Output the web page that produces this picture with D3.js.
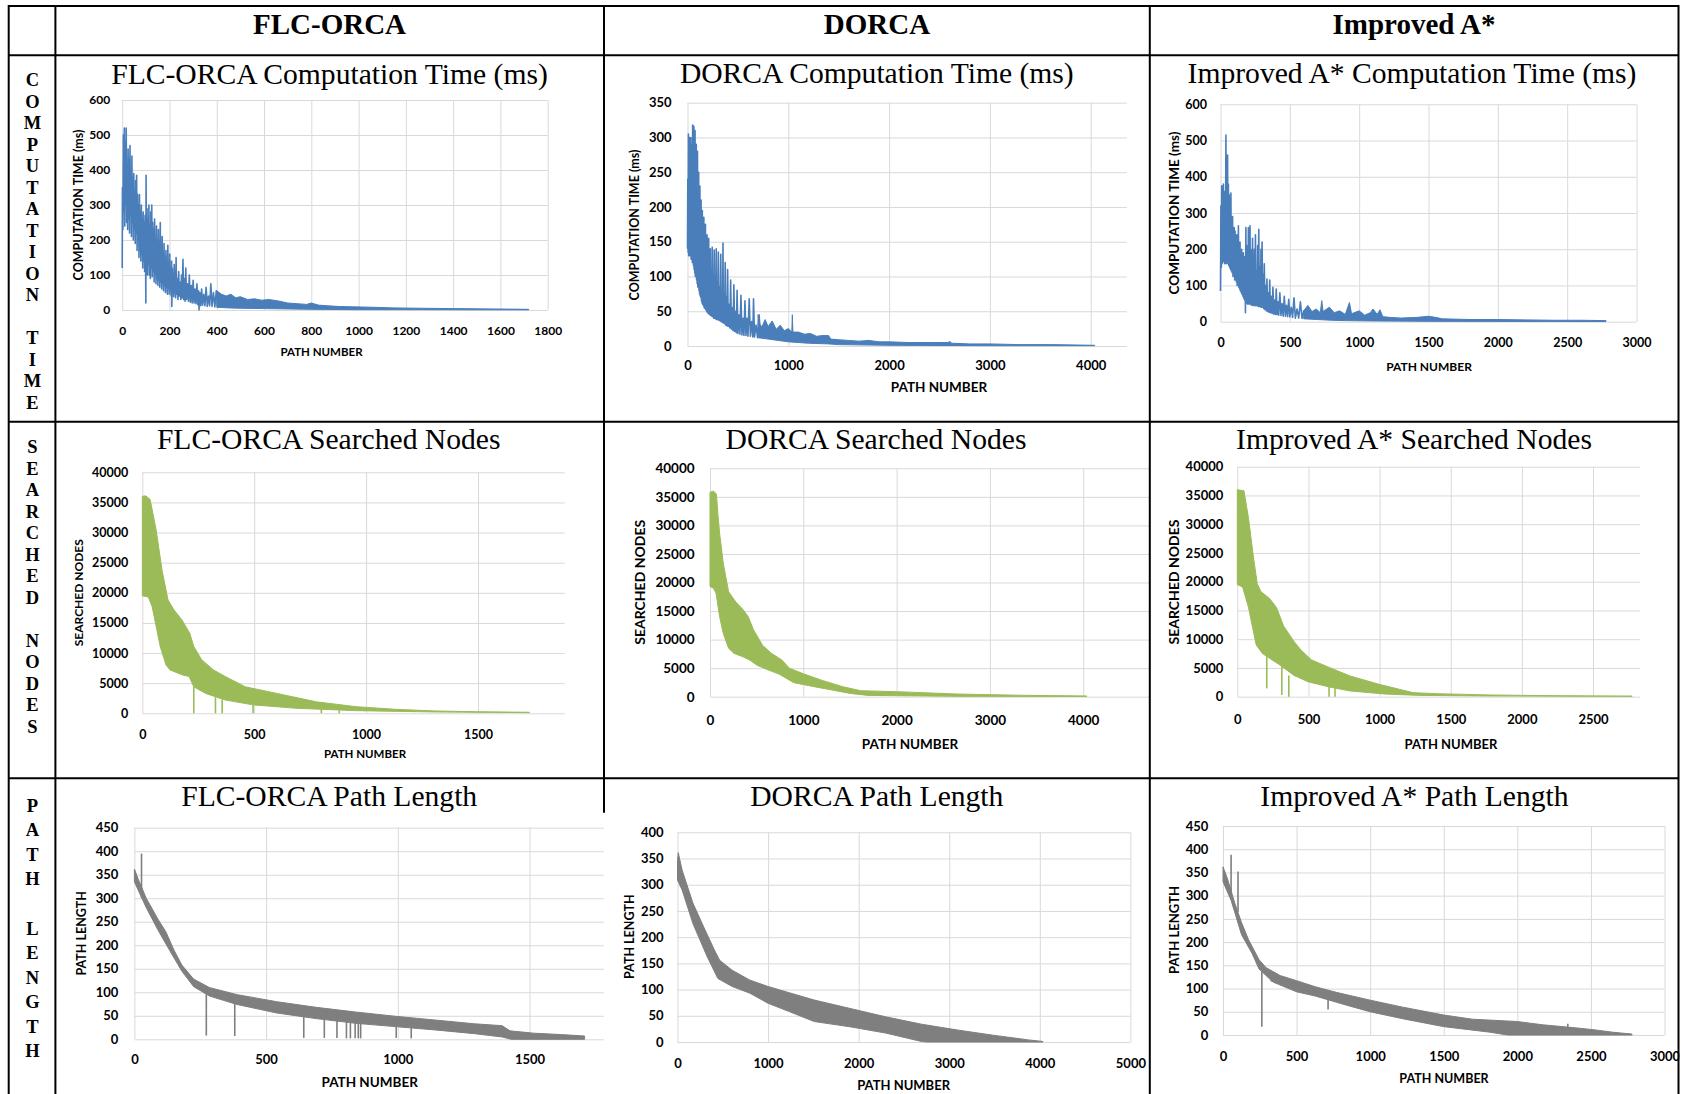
<!DOCTYPE html>
<html>
<head>
<meta charset="utf-8">
<title>FLC-ORCA / DORCA / Improved A* comparison</title>
<script src="https://d3js.org/d3.v7.min.js"></script>
<style>
  body { margin: 0; background: #fff; }
  svg { display: block; }
</style>
</head>
<body>
<div id="vis"></div>
<script>
const width = 1689;
const height = 1094;

// ---- table text ----
const columns = ["FLC-ORCA", "DORCA", "Improved A*"];
const rowLabels = ["COMPUTATION TIME", "SEARCHED NODES", "PATH LENGTH"];
const chartTitles = [
  "FLC-ORCA Computation Time (ms)", "DORCA Computation Time (ms)", "Improved A* Computation Time (ms)",
  "FLC-ORCA Searched Nodes", "DORCA Searched Nodes", "Improved A* Searched Nodes",
  "FLC-ORCA Path Length", "DORCA Path Length", "Improved A* Path Length"
];
const yTitles = ["COMPUTATION TIME (ms)", "SEARCHED NODES", "PATH LENGTH"];
const xTitle = "PATH NUMBER";

// ---- ticks ----
const ctFlcXTicks = [0, 200, 400, 600, 800, 1000, 1200, 1400, 1600, 1800];
const ctFlcYTicks = [0, 100, 200, 300, 400, 500, 600];
const ctDorcaXTicks = [0, 1000, 2000, 3000, 4000];
const ctDorcaYTicks = [0, 50, 100, 150, 200, 250, 300, 350];
const ctAstarXTicks = [0, 500, 1000, 1500, 2000, 2500, 3000];
const ctAstarYTicks = [0, 100, 200, 300, 400, 500, 600];
const snYTicks = [0, 5000, 10000, 15000, 20000, 25000, 30000, 35000, 40000];
const snFlcXTicks = [0, 500, 1000, 1500];
const snDorcaXTicks = [0, 1000, 2000, 3000, 4000];
const snAstarXTicks = [0, 500, 1000, 1500, 2000, 2500];
const plFlcXTicks = [0, 500, 1000, 1500];
const plFlcYTicks = [0, 50, 100, 150, 200, 250, 300, 350, 400, 450];
const plDorcaXTicks = [0, 1000, 2000, 3000, 4000, 5000];
const plDorcaYTicks = [0, 50, 100, 150, 200, 250, 300, 350, 400];
const plAstarXTicks = [0, 500, 1000, 1500, 2000, 2500, 3000];
const plAstarYTicks = [0, 50, 100, 150, 200, 250, 300, 350, 400, 450];

// ---- computation time, [path number, ms] ----
// noisy head as a line, long flat tail as a thin band
const ctFlc = [[0,120],[1,350],[3,230],[5,500],[7,280],[9,520],[11,240],[13,480],[15,300],[17,520],[19,250],[21,420],[23,230],[25,460],[27,260],[29,430],[31,220],[33,470],[35,280],[37,400],[39,210],[41,440],[43,250],[45,380],[47,200],[49,390],[51,230],[53,340],[55,190],[57,370],[59,220],[61,385],[63,170],[65,330],[67,200],[69,300],[71,150],[73,330],[75,170],[77,280],[79,140],[81,300],[83,160],[85,260],[87,120],[89,280],[91,140],[93,250],[95,110],[97,270],[99,130],[100,20],[101,385],[103,120],[105,290],[107,100],[109,260],[111,130],[113,300],[115,100],[117,240],[119,90],[121,280],[123,120],[125,300],[127,95],[129,250],[131,110],[133,230],[135,80],[137,260],[139,100],[141,200],[143,75],[145,240],[147,90],[149,200],[151,70],[153,230],[155,85],[157,190],[159,65],[161,250],[163,80],[165,180],[167,60],[169,210],[171,75],[173,160],[175,55],[177,190],[179,70],[181,150],[183,50],[185,170],[187,65],[189,140],[191,45],[193,185],[195,60],[197,130],[199,45],[201,160],[203,55],[205,120],[207,40],[209,140],[210,10],[212,120],[214,45],[216,100],[218,38],[220,130],[222,50],[224,95],[226,35],[228,150],[230,45],[233,90],[236,30],[239,110],[242,40],[245,80],[248,30],[251,100],[254,35],[257,145],[260,30],[263,90],[266,25],[269,120],[272,30],[276,75],[280,25],[284,100],[288,22],[292,70],[296,20],[300,85],[304,20],[308,60],[312,18],[316,75],[320,15],[323,55],[325,0],[328,50],[332,12],[336,60],[340,14],[345,45],[350,12],[355,65],[360,10],[365,40],[370,12],[375,75],[380,10],[386,50],[392,9],[398,55],[405,8],[412,40],[420,8]];
const ctFlcTailTop = [[400,55],[420,45],[440,40],[460,45],[480,35],[500,38],[530,30],[560,32],[590,28],[620,30],[660,26],[700,20],[740,18],[780,16],[800,20],[830,14],[870,12],[920,10],[980,9],[1050,8],[1150,6],[1260,5],[1400,4],[1560,3],[1720,2]];
const ctFlcTailBottom = [[400,8],[450,6],[500,5],[600,4],[700,3],[800,2],[1000,1],[1200,1],[1720,0.5]];

const ctDorca = [[0,140],[3,240],[6,135],[9,305],[12,130],[15,280],[18,140],[21,300],[24,130],[27,260],[30,135],[33,300],[36,125],[39,240],[42,130],[45,290],[48,120],[51,318],[54,125],[57,270],[60,115],[63,316],[66,110],[69,250],[72,105],[75,310],[78,100],[81,230],[84,100],[87,290],[90,95],[93,210],[96,90],[99,280],[102,85],[105,200],[108,85],[111,250],[114,80],[117,190],[120,75],[123,230],[126,72],[129,175],[132,70],[135,210],[138,65],[141,165],[144,62],[147,195],[150,60],[154,150],[158,58],[162,185],[166,55],[170,140],[174,54],[178,175],[182,52],[186,130],[190,50],[194,160],[198,48],[202,120],[206,47],[210,155],[214,46],[218,115],[222,45],[226,140],[230,44],[235,105],[240,43],[245,142],[250,42],[255,100],[260,40],[265,138],[270,40],[275,95],[280,39],[285,140],[290,38],[295,90],[300,38],[306,135],[312,37],[318,85],[324,36],[330,132],[336,35],[342,80],[348,34],[352,148],[356,33],[362,75],[368,32],[374,120],[380,30],[386,70],[392,29],[398,110],[404,28],[412,60],[420,26],[428,95],[436,24],[444,55],[452,22],[460,88],[468,21],[476,50],[484,19],[492,80],[500,18],[510,45],[520,17],[530,73],[540,16],[550,40],[560,15],[570,65],[580,15],[590,40],[600,14],[612,68],[624,14],[636,35],[648,13],[655,68],[665,13],[680,30],[695,12],[710,45],[725,12]];
const ctDorcaTailTop = [[700,45],[720,30],[740,28],[770,38],[800,28],[840,36],[880,24],[920,30],[960,22],[1000,25],[1035,20],[1040,45],[1046,20],[1100,20],[1160,17],[1220,18],[1280,14],[1340,15],[1400,15],[1420,10],[1500,9],[1600,8],[1700,7],[1800,8],[1900,6],[2000,6],[2200,5],[2400,5],[2590,5],[2600,7],[2620,4],[2800,3],[3000,3],[3300,2],[3600,2],[4040,1]];
const ctDorcaTailBottom = [[700,12],[800,10],[900,8],[1000,6],[1100,5],[1200,4],[1400,3],[1500,2],[2000,1],[3000,0.5],[4040,0.5]];

const ctAstar = [[0,85],[3,320],[6,150],[9,375],[12,160],[15,330],[18,165],[21,380],[24,170],[27,300],[30,160],[33,360],[36,165],[39,515],[42,160],[45,420],[48,170],[51,460],[54,160],[57,380],[60,155],[63,350],[66,150],[69,300],[72,145],[75,355],[78,140],[81,280],[84,135],[87,290],[90,125],[93,240],[96,130],[99,260],[102,115],[105,250],[108,120],[111,200],[114,110],[117,240],[120,100],[123,190],[126,105],[129,265],[132,95],[135,180],[138,90],[141,220],[144,85],[147,170],[150,80],[153,200],[156,75],[159,150],[162,70],[165,190],[168,65],[171,140],[174,60],[177,180],[180,25],[183,260],[186,55],[189,150],[192,50],[195,210],[198,48],[201,260],[204,52],[207,170],[210,48],[213,265],[216,50],[219,160],[222,46],[225,200],[228,45],[231,230],[234,47],[237,150],[240,45],[244,200],[248,44],[252,240],[256,45],[260,140],[264,44],[268,210],[272,42],[276,255],[280,42],[284,150],[288,41],[292,200],[296,40],[300,220],[304,40],[308,130],[312,36],[316,160],[320,34],[325,100],[330,30],[335,118],[340,28],[345,80],[350,26],[355,115],[360,25],[366,70],[372,23],[378,95],[384,21],[390,60],[396,20],[402,90],[408,19],[414,55],[420,18],[428,80],[436,17],[444,50],[452,15],[460,70],[468,15],[476,45],[484,14],[492,62],[500,13],[510,40],[520,12],[530,66],[540,10],[552,35],[564,10],[576,55],[588,9],[600,30],[615,8]];
const ctAstarTailTop = [[600,30],[630,45],[660,28],[690,35],[720,25],[730,58],[740,28],[785,40],[820,25],[860,30],[900,20],[930,53],[945,22],[1000,30],[1040,18],[1080,25],[1100,35],[1130,20],[1150,33],[1170,14],[1220,12],[1300,10],[1420,12],[1500,15],[1550,12],[1600,8],[1800,6],[2000,6],[2200,5],[2400,4],[2600,4],[2780,3]];
const ctAstarTailBottom = [[600,8],[700,6],[800,4],[900,3],[1100,2],[1500,1],[2780,0.5]];

// ---- searched nodes: top and bottom edge of the dense band, plus drops [n, from, to] ----
const snFlcTop = [[0,36000],[15,36100],[35,35500],[62,30400],[88,23800],[115,18800],[141,17200],[177,15500],[212,13300],[230,11100],[265,8900],[318,7200],[371,6100],[460,4400],[601,3300],[778,1900],[955,1100],[1131,660],[1308,390],[1500,250],[1730,170]];
const snFlcBottom = [[0,19500],[27,19300],[44,17700],[62,14400],[80,11100],[106,8000],[124,7200],[177,6400],[209,6100],[230,4400],[283,3300],[371,2200],[495,1400],[690,830],[955,440],[1308,220],[1730,110]];
const snFlcDrops = [[230,4400,0],[327,2700,0],[357,2300,0],[495,1400,0],[800,800,0],[880,500,0]];

const snDorcaTop = [[0,35800],[38,36000],[69,35500],[84,32100],[103,28600],[142,23400],[199,18400],[276,16600],[352,15300],[410,14000],[467,11700],[563,9000],[658,7600],[773,6400],[850,5000],[1003,4000],[1194,2900],[1424,1750],[1615,1050],[1998,880],[2648,470],[3414,230],[4037,120]];
const snDorcaBottom = [[0,19300],[38,19000],[65,18100],[103,14000],[142,11100],[199,8500],[256,7600],[352,7000],[429,6400],[505,5500],[620,4700],[735,4000],[899,2450],[1118,1750],[1309,1170],[1500,580],[1692,230],[1998,175],[2648,60],[4037,50]];

const snAstarTop = [[0,36000],[47,35800],[79,31000],[116,23800],[140,19700],[165,18300],[226,17100],[276,15500],[325,12300],[399,9600],[448,8100],[522,6400],[645,5100],[793,3600],[990,2200],[1137,1300],[1236,700],[1408,520],[1777,300],[2270,160],[2775,100]];
const snAstarBottom = [[0,19500],[37,19100],[79,15500],[116,11000],[133,9000],[177,7500],[207,7000],[300,5500],[399,3700],[497,2600],[645,1700],[793,1000],[1039,460],[1285,230],[1777,120],[2775,60]];
const snAstarDrops = [[207,7000,1450],[313,5500,300],[362,3700,0],[645,1700,0],[687,1500,0]];

// ---- path length: band edges plus single spikes [n, from, to] ----
const plFlcTop = [[0,362],[15,340],[45,300],[90,255],[120,228],[150,190],[180,158],[225,128],[285,110],[390,95],[540,80],[690,68],[840,58],[990,49],[1141,41],[1291,33],[1396,29],[1426,18],[1516,13],[1622,10],[1709,7]];
const plFlcBottom = [[0,335],[45,280],[90,232],[135,188],[180,145],[225,112],[285,92],[390,74],[540,56],[690,44],[840,34],[990,27],[1141,20],[1291,12],[1396,5],[1430,0],[1709,0]];
const plFlcSpikes = [[27,300,395],[273,105,8],[381,92,7],[643,68,3],[721,62,3],[769,58,3],[805,56,2],[820,55,2],[838,54,2],[850,54,2],[859,53,2],[994,45,3],[1051,40,2]];

const plDorcaTop = [[0,345],[8,361],[51,328],[170,265],[288,220],[406,176],[465,156],[603,137],[800,118],[998,106],[1234,94],[1510,80],[1905,64],[2299,48],[2693,34],[3087,23],[3482,13],[3876,4],[4034,1]];
const plDorcaBottom = [[0,309],[51,290],[170,226],[327,163],[446,121],[603,106],[800,93],[998,74],[1234,58],[1510,39],[1905,29],[2299,17],[2693,1],[2752,0],[4034,0]];

const plAstarTop = [[0,362],[31,336],[79,285],[126,242],[174,205],[245,162],[293,145],[388,128],[500,117],[626,104],[768,92],[1000,75],[1221,60],[1500,43],[1696,34],[2000,29],[2172,22],[2410,15],[2529,11],[2648,6],[2779,2]];
const plAstarBottom = [[0,330],[55,290],[126,216],[197,176],[245,142],[340,114],[500,93],[626,84],[864,62],[1000,50],[1221,35],[1500,18],[1815,6],[1934,0],[2779,0]];
const plAstarSpikes = [[55,300,388],[102,265,352],[264,155,18],[714,88,55],[328,130,115],[2343,15,24]];

// ---- colours ----
const blue = "#4a7ebb", green = "#9bbb59", grey = "#7f7f7f";

// placement of each chart picture inside the table
const charts = [
  { title: chartTitles[0], yTitle: yTitles[0], xTicks: ctFlcXTicks, yTicks: ctFlcYTicks, line: ctFlc, top: ctFlcTailTop, bottom: ctFlcTailBottom, spikes: [], color: blue,
    x0: 122.2, x1: 547.7, right: 547.7, y0: 310, y1: 100, padL: 12, padB: 16.8, fs: 12,
    xt: [321.5, 352], xfs: 11.5, yt: [78, 205], yfs: 12.5, tp: [329.5, 84.3] },
  { title: chartTitles[1], yTitle: yTitles[0], xTicks: ctDorcaXTicks, yTicks: ctDorcaYTicks, line: ctDorca, top: ctDorcaTailTop, bottom: ctDorcaTailBottom, spikes: [], color: blue,
    x0: 687.5, x1: 1090.7, right: 1126.8, y0: 346, y1: 102.7, padL: 16, padB: 14.5, fs: 13,
    xt: [939, 386.7], xfs: 13.5, yt: [634.6, 225], yfs: 12.5, tp: [876.8, 83.3] },
  { title: chartTitles[2], yTitle: yTitles[0], xTicks: ctAstarXTicks, yTicks: ctAstarYTicks, line: ctAstar, top: ctAstarTailTop, bottom: ctAstarTailBottom, spikes: [], color: blue,
    x0: 1220.5, x1: 1636.5, right: 1636.5, y0: 321.7, y1: 104.3, padL: 13.5, padB: 16.6, fs: 12.5,
    xt: [1429, 366.7], xfs: 12, yt: [1174, 213], yfs: 13.5, tp: [1412, 83.3] },
  { title: chartTitles[3], yTitle: yTitles[1], xTicks: snFlcXTicks, yTicks: snYTicks, top: snFlcTop, bottom: snFlcBottom, spikes: snFlcDrops, color: green,
    x0: 142.3, x1: 478, right: 564.7, y0: 713.3, y1: 472.3, padL: 14, padB: 16.6, fs: 12.5,
    xt: [365, 754.3], xfs: 11.5, yt: [79, 592.7], yfs: 12, tp: [328.7, 449.3] },
  { title: chartTitles[4], yTitle: yTitles[1], xTicks: snDorcaXTicks, yTicks: snYTicks, top: snDorcaTop, bottom: snDorcaBottom, spikes: [], color: green,
    x0: 710, x1: 1083.2, right: 1149, y0: 696.7, y1: 468.3, padL: 15.4, padB: 18.3, fs: 13.5,
    xt: [910, 744.3], xfs: 13.5, yt: [640, 582.3], yfs: 14, tp: [876, 449.3] },
  { title: chartTitles[5], yTitle: yTitles[1], xTicks: snAstarXTicks, yTicks: snYTicks, top: snAstarTop, bottom: snAstarBottom, spikes: snAstarDrops, color: green,
    x0: 1237.3, x1: 1593, right: 1640, y0: 696.7, y1: 466.7, padL: 14, padB: 18.4, fs: 13,
    xt: [1451, 744.3], xfs: 13, yt: [1174, 582], yfs: 14, tp: [1414, 449.3] },
  { title: chartTitles[6], yTitle: yTitles[2], xTicks: plFlcXTicks, yTicks: plFlcYTicks, top: plFlcTop, bottom: plFlcBottom, spikes: plFlcSpikes, color: grey,
    x0: 134.4, x1: 529.5, right: 603.8, y0: 1039.3, y1: 827.7, padL: 16, padB: 15.4, fs: 13,
    xt: [369.7, 1081.7], xfs: 13.5, yt: [81, 933.3], yfs: 12.5, tp: [329.2, 805.7], cover: true },
  { title: chartTitles[7], yTitle: yTitles[2], xTicks: plDorcaXTicks, yTicks: plDorcaYTicks, top: plDorcaTop, bottom: plDorcaBottom, spikes: [], color: grey,
    x0: 677.5, x1: 1130.4, right: 1130.4, y0: 1042, y1: 832.3, padL: 14, padB: 16.4, fs: 13,
    xt: [903.6, 1085], xfs: 13, yt: [629.3, 936.7], yfs: 12.5, tp: [876.8, 805.7] },
  { title: chartTitles[8], yTitle: yTitles[2], xTicks: plAstarXTicks, yTicks: plAstarYTicks, top: plAstarTop, bottom: plAstarBottom, spikes: plAstarSpikes, color: grey,
    x0: 1223, x1: 1664.5, right: 1664.5, y0: 1035, y1: 826, padL: 14.7, padB: 16.4, fs: 13,
    xt: [1444, 1078.3], xfs: 12.5, yt: [1174, 930], yfs: 13, tp: [1414.4, 805.7] }
];

const sans = "Lato, 'Open Sans', sans-serif";
const serif = "'Liberation Serif', 'Times New Roman', serif";

const svg = d3.select('#vis').append('svg')
  .attr('width', width)
  .attr('height', height);

svg.append('rect').attr('width', width).attr('height', height).attr('fill', '#fff');

charts.forEach(function(c) {
  const g = svg.append('g');

  // the bottom-left picture sits over the column rule
  if (c.cover) {
    g.append('rect').attr('x', 60).attr('y', 812.7).attr('width', 545).attr('height', height - 812.7).attr('fill', '#fff');
  }

  const x = d3.scaleLinear().domain([0, c.xTicks[c.xTicks.length - 1]]).range([c.x0, c.x1]);
  const y = d3.scaleLinear().domain([0, c.yTicks[c.yTicks.length - 1]]).range([c.y0, c.y1]);

  // horizontal gridlines and value labels
  const ya = g.append('g')
    .attr('transform', `translate(${c.x0},0)`)
    .call(d3.axisLeft(y).tickValues(c.yTicks).tickSize(-(c.right - c.x0)).tickPadding(c.padL).tickFormat(d3.format('d')));
  ya.select('.domain').remove();
  ya.selectAll('line').attr('stroke', '#d9d9d9');
  ya.selectAll('text').attr('font-family', sans).attr('font-weight', 700).attr('font-size', c.fs).attr('fill', '#000');

  // vertical gridlines and path number labels
  const xa = g.append('g')
    .attr('transform', `translate(0,${c.y0})`)
    .call(d3.axisBottom(x).tickValues(c.xTicks).tickSize(-(c.y0 - c.y1)).tickPadding(c.padB).tickFormat(d3.format('d')));
  xa.select('.domain').remove();
  xa.selectAll('line').attr('stroke', '#d9d9d9');
  xa.selectAll('text').attr('font-family', sans).attr('font-weight', 700).attr('font-size', c.fs).attr('fill', '#000');

  const pts = d3.line().x(p => x(p[0])).y(p => y(p[1]));

  // dense band
  const band = c.top.concat(c.bottom.slice().reverse());
  g.append('path')
    .datum(band)
    .attr('fill', c.color)
    .attr('stroke', c.color)
    .attr('stroke-width', 1)
    .attr('stroke-linejoin', 'round')
    .attr('d', d => pts(d) + 'Z');

  // noisy line
  if (c.line) {
    g.append('path')
      .datum(c.line)
      .attr('fill', 'none')
      .attr('stroke', c.color)
      .attr('stroke-width', 1.6)
      .attr('stroke-linejoin', 'round')
      .attr('d', pts);
  }

  g.selectAll('line.spike')
    .data(c.spikes)
    .join('line')
    .attr('class', 'spike')
    .attr('x1', d => x(d[0])).attr('x2', d => x(d[0]))
    .attr('y1', d => y(d[1])).attr('y2', d => y(d[2]))
    .attr('stroke', c.color)
    .attr('stroke-width', 1.6);

  g.append('text')
    .attr('x', c.xt[0]).attr('y', c.xt[1]).attr('dy', '0.36em')
    .attr('text-anchor', 'middle')
    .attr('font-family', sans).attr('font-weight', 700).attr('font-size', c.xfs)
    .text(xTitle);

  g.append('text')
    .attr('transform', `translate(${c.yt[0]},${c.yt[1]}) rotate(-90)`)
    .attr('dy', '0.36em')
    .attr('text-anchor', 'middle')
    .attr('font-family', sans).attr('font-weight', 700).attr('font-size', c.yfs)
    .text(c.yTitle);

  g.append('text')
    .attr('x', c.tp[0]).attr('y', c.tp[1])
    .attr('text-anchor', 'middle')
    .attr('font-family', serif).attr('font-size', 29.6)
    .text(c.title);
});

// right of the outer border is blank paper
svg.append('rect').attr('x', 1679.5).attr('y', 0).attr('width', width - 1679.5).attr('height', height).attr('fill', '#fff');

// column headers
const colCentres = [329.5, 877, 1414];
svg.selectAll('text.head')
  .data(columns)
  .join('text')
  .attr('class', 'head')
  .attr('x', (d, i) => colCentres[i])
  .attr('y', 34.3)
  .attr('text-anchor', 'middle')
  .attr('font-family', serif).attr('font-weight', 700).attr('font-size', 29)
  .text(d => d);

// stacked row labels, one letter per line
const rowStart = [86, 453.3, 811.7];
const rowStep = [21.5, 21.5, 24.56];
rowLabels.forEach(function(label, r) {
  const letters = label.split('').map((ch, i) => ({ ch: ch, i: i })).filter(d => d.ch !== ' ');
  svg.append('g').selectAll('text')
    .data(letters)
    .join('text')
    .attr('x', 32.4)
    .attr('y', d => rowStart[r] + d.i * rowStep[r])
    .attr('text-anchor', 'middle')
    .attr('font-family', serif).attr('font-weight', 700).attr('font-size', 18.5)
    .text(d => d.ch);
});

// table rules
const rules = [
  [8.7, 6, 1678.5, 6], [8.7, 55.3, 1678.5, 55.3], [8.7, 421.7, 1678.5, 421.7], [8.7, 778.3, 1678.5, 778.3],
  [8.7, 5, 8.7, height], [55.4, 5, 55.4, height], [604, 5, 604, 812.7], [1149.8, 5, 1149.8, height], [1678.5, 5, 1678.5, height]
];
svg.append('g').selectAll('line')
  .data(rules)
  .join('line')
  .attr('x1', d => d[0]).attr('y1', d => d[1])
  .attr('x2', d => d[2]).attr('y2', d => d[3])
  .attr('stroke', '#000')
  .attr('stroke-width', 2);
</script>
</body>
</html>
